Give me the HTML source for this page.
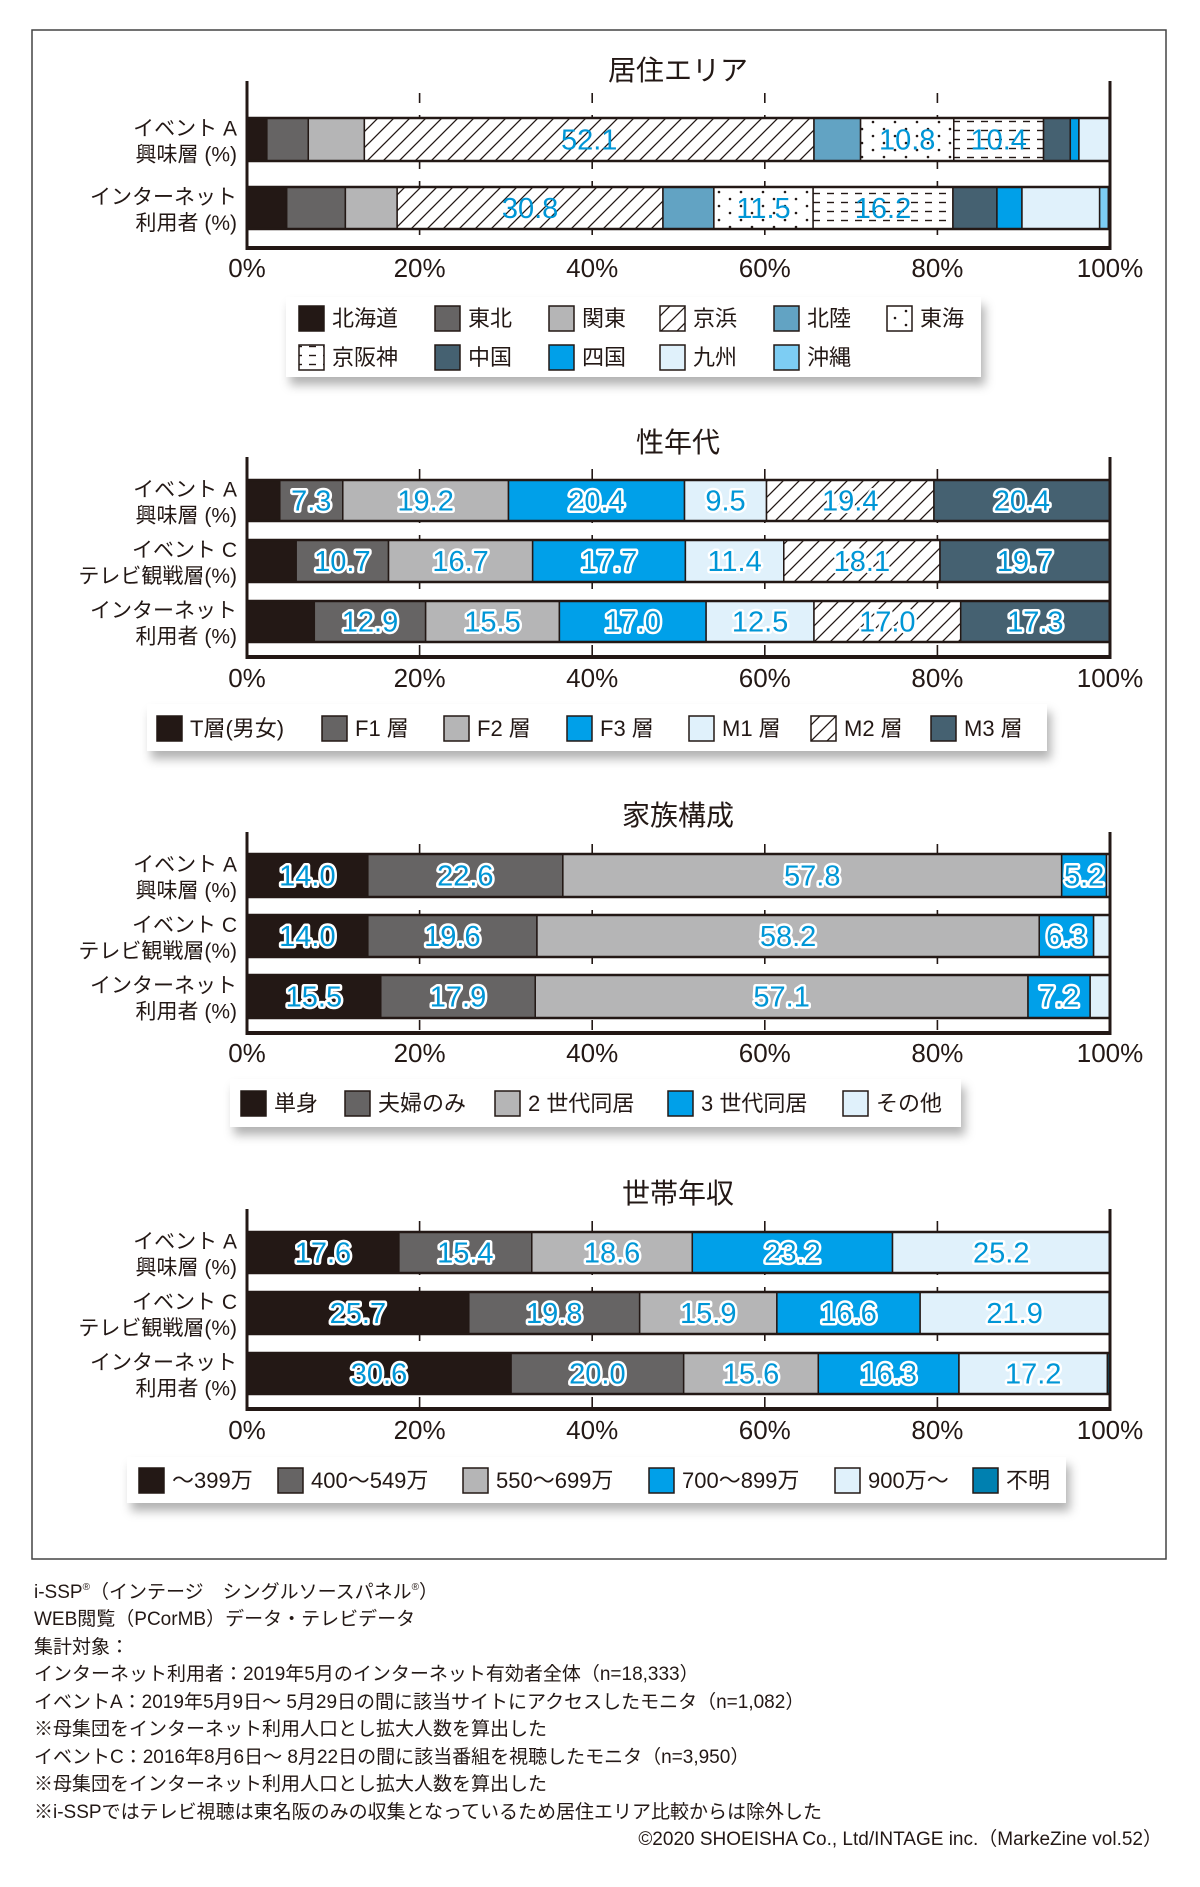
<!DOCTYPE html>
<html><head><meta charset="utf-8">
<style>
html,body{margin:0;padding:0;background:#fff;}
svg{display:block;font-family:"Liberation Sans Narrow","Liberation Sans","Noto Sans CJK JP",sans-serif;}
.foot{font-family:"Liberation Sans Narrow","Liberation Sans","Noto Sans CJK JP",sans-serif;}
</style></head>
<body>
<svg id="root" width="1200" height="1887" viewBox="0 0 1200 1887" xmlns="http://www.w3.org/2000/svg">
<defs>
<pattern id="hatch" patternUnits="userSpaceOnUse" width="16" height="16"><rect width="16" height="16" fill="#fff"/><path d="M-4,20 L20,-4 M-4,4 L4,-4 M12,20 L20,12" stroke="#231815" stroke-width="1.3"/></pattern>
<pattern id="dots" patternUnits="userSpaceOnUse" width="22" height="14"><rect width="22" height="14" fill="#fff"/><circle cx="4" cy="3" r="1.3" fill="#231815"/><circle cx="15" cy="10" r="1.3" fill="#231815"/></pattern>
<pattern id="dash" patternUnits="userSpaceOnUse" width="14" height="9"><rect width="14" height="9" fill="#fff"/><path d="M1,4.5 L8,4.5" stroke="#231815" stroke-width="1.4"/></pattern>
<filter id="shadow" x="-5%" y="-20%" width="110%" height="160%"><feDropShadow dx="4" dy="8" stdDeviation="5" flood-color="#000" flood-opacity="0.3"/></filter>
</defs>
<rect x="32" y="30" width="1134" height="1529" fill="none" stroke="#444" stroke-width="1.5"/>
<g id="charts"></g>
<g class="foot" font-size="19" fill="#231815">
<text x="34" y="1598">i-SSP<tspan font-size="10" dy="-8">®</tspan><tspan dy="8">（インテージ　シングルソースパネル</tspan><tspan font-size="10" dy="-8">®</tspan><tspan dy="8">）</tspan></text>
<text x="34" y="1625">WEB閲覧（PCorMB）データ・テレビデータ</text>
<text x="34" y="1653">集計対象：</text>
<text x="34" y="1680">インターネット利用者：2019年5月のインターネット有効者全体（n=18,333）</text>
<text x="34" y="1708">イベントA：2019年5月9日～ 5月29日の間に該当サイトにアクセスしたモニタ（n=1,082）</text>
<text x="34" y="1735">※母集団をインターネット利用人口とし拡大人数を算出した</text>
<text x="34" y="1763">イベントC：2016年8月6日～ 8月22日の間に該当番組を視聴したモニタ（n=3,950）</text>
<text x="34" y="1790">※母集団をインターネット利用人口とし拡大人数を算出した</text>
<text x="34" y="1818">※i-SSPではテレビ視聴は東名阪のみの収集となっているため居住エリア比較からは除外した</text>
<text x="1162" y="1845" text-anchor="end">©2020 SHOEISHA Co., Ltd/INTAGE inc.（MarkeZine vol.52）</text>
</g>
</svg>
<script>
// ---- Chart 1: 居住エリア ----
const areaCategories = ['北海道','東北','関東','京浜','北陸','東海','京阪神','中国','四国','九州','沖縄'];
const areaEventA = [2.3,4.8,6.5,52.1,5.4,10.8,10.4,3.1,1.0,3.5,0.1];
const areaInternet = [4.6,6.8,6.0,30.8,5.9,11.5,16.2,5.1,2.9,9.0,1.0];
const areaLabeled = [3,5,6];
// ---- Chart 2: 性年代 ----
const ageCategories = ['T層(男女)','F1 層','F2 層','F3 層','M1 層','M2 層','M3 層'];
const ageEventA = [3.8,7.3,19.2,20.4,9.5,19.4,20.4];
const ageEventC = [5.7,10.7,16.7,17.7,11.4,18.1,19.7];
const ageInternet = [7.8,12.9,15.5,17.0,12.5,17.0,17.3];
// ---- Chart 3: 家族構成 ----
const famCategories = ['単身','夫婦のみ','2 世代同居','3 世代同居','その他'];
const famEventA = [14.0,22.6,57.8,5.2,0.4];
const famEventC = [14.0,19.6,58.2,6.3,1.9];
const famInternet = [15.5,17.9,57.1,7.2,2.3];
// ---- Chart 4: 世帯年収 ----
const incCategories = ['～399万','400～549万','550～699万','700～899万','900万～','不明'];
const incEventA = [17.6,15.4,18.6,23.2,25.2,0.0];
const incEventC = [25.7,19.8,15.9,16.6,21.9,0.0];
const incInternet = [30.6,20.0,15.6,16.3,17.2,0.3];
const tickLabels = ['0%','20%','40%','60%','80%','100%'];

const NS='http://www.w3.org/2000/svg';
const X0=247, X1=1110;
function xScale(v){return X0+(X1-X0)*v/100;}
function mk(tag,attrs,parent){const e=document.createElementNS(NS,tag);for(const k in attrs)e.setAttribute(k,attrs[k]);parent.appendChild(e);return e;}
const root=document.getElementById('charts');

function drawChart(cfg){
  const g=mk('g',{},root);
  
  
  const t=mk('text',{x:678,y:cfg.titleY+10,'font-size':28,'text-anchor':'middle',fill:'#231815','font-family':'"Liberation Sans","Noto Sans CJK JP",sans-serif'},g);
  t.textContent=cfg.title;
  
  
  for(let i=1;i<5;i++){
    const gl=mk('line',{x1:xScale(i*20),x2:xScale(i*20),y1:cfg.top+12,y2:cfg.bottom,stroke:'#231815','stroke-width':1.6,'stroke-dasharray':'10,12'},g);
    
    
  }
  cfg.rows.forEach((row,ri)=>{
    const [y0,y1]=cfg.rowY[ri];
    let acc=0;
    mk('rect',{x:X0,y:y0,width:X1-X0,height:y1-y0,fill:'#fff'},g);
    row.values.forEach((v,ci)=>{
      const xa=xScale(acc), xb=xScale(acc+v);
      acc+=v;
      if(v<=0)return;
      const r=mk('rect',{x:xa,y:y0,width:xb-xa,height:y1-y0,fill:cfg.fills[ci],stroke:'#231815','stroke-width':1.5},g);
      
      
      const show = cfg.labeled ? cfg.labeled.includes(ci) : (ci>0);
      if(show && v>=cfg.minLabel){
        const tx=mk('text',{x:(xa+xb)/2,y:(y0+y1)/2+10,'font-size':29,'text-anchor':'middle',fill:'#0096d6'},g);
        if(cfg.outline){tx.setAttribute('stroke','#fff');tx.setAttribute('stroke-width','5');tx.setAttribute('paint-order','stroke');tx.setAttribute('stroke-linejoin','round');}
        tx.textContent=v.toFixed(1);
        
        
      }
    });
    mk('rect',{x:X0,y:y0,width:X1-X0,height:y1-y0,fill:'none',stroke:'#231815','stroke-width':2.5},g);
    row.label.forEach((ln,li)=>{
      const lt=mk('text',{x:237,y:(y0+y1)/2-4+li*26,'font-size':21,'text-anchor':'end',fill:'#231815','font-family':'"Liberation Sans","Noto Sans CJK JP",sans-serif'},g);
      lt.textContent=ln;
      
      
    });
  });
  mk('line',{x1:X0,x2:X0,y1:cfg.top,y2:cfg.bottom+2,stroke:'#231815','stroke-width':3},g);
  mk('line',{x1:X1,x2:X1,y1:cfg.top,y2:cfg.bottom+2,stroke:'#231815','stroke-width':3},g);
  mk('line',{x1:X0,x2:X1,y1:cfg.bottom,y2:cfg.bottom,stroke:'#231815','stroke-width':4},g);
  tickLabels.forEach((tl,i)=>{
    const tx=mk('text',{x:xScale(i*20),y:cfg.tickY+9,'font-size':26,'text-anchor':'middle',fill:'#231815'},g);
    tx.textContent=tl;
    
    
  });
  const L=cfg.legend;
  const lb=mk('rect',{x:L.x,y:L.y,width:L.w,height:L.h,fill:'#fff',filter:'url(#shadow)'},g);
  
  
  cfg.categories.forEach((c,ci)=>{
    const p=L.pos[ci];
    const sw=mk('rect',{x:p[0],y:p[1]-12,width:25,height:25,fill:cfg.fills[ci],stroke:'#231815','stroke-width':1.5},g);
    
    
    const tx=mk('text',{x:p[0]+33,y:p[1]+8,'font-size':22,fill:'#231815','font-family':'"Liberation Sans","Noto Sans CJK JP",sans-serif'},g);
    tx.textContent=c;
    
    
  });
}

const K='#231815',DG='#666464',LG='#b5b5b6',BL='#00a0e9',PB='#e0f1fb',SL='#456171';
const lblA=['イベント A','興味層 (%)'], lblC=['イベント C','テレビ観戦層(%)'], lblI=['インターネット','利用者 (%)'];

drawChart({name:'area',title:'居住エリア',titleY:70,top:81,bottom:248,tickY:268,
  rowY:[[118,161],[187,229]],
  rows:[{label:lblA,values:areaEventA},{label:lblI,values:areaInternet}],
  fills:[K,DG,LG,'url(#hatch)','#62a3c3','url(#dots)','url(#dash)',SL,BL,PB,'#7dcdf3'],
  categories:areaCategories,labeled:areaLabeled,minLabel:3,outline:false,
  legend:{x:286,y:297,w:695,h:80,pos:[[299,318],[435,318],[549,318],[660,318],[774,318],[887,318],[299,357],[435,357],[549,357],[660,357],[774,357]]}});

drawChart({name:'age',title:'性年代',titleY:442,top:457,bottom:657,tickY:678,
  rowY:[[480,521],[540,582],[601,642]],
  rows:[{label:lblA,values:ageEventA},{label:lblC,values:ageEventC},{label:lblI,values:ageInternet}],
  fills:[K,DG,LG,BL,PB,'url(#hatch)',SL],
  categories:ageCategories,minLabel:3,outline:true,
  legend:{x:147,y:704,w:900,h:47,pos:[[157,728],[322,728],[444,728],[567,728],[689,728],[811,728],[931,728]]}});

drawChart({name:'family',title:'家族構成',titleY:815,top:832,bottom:1033,tickY:1053,
  rowY:[[854,897],[915,957],[975,1018]],
  rows:[{label:lblA,values:famEventA},{label:lblC,values:famEventC},{label:lblI,values:famInternet}],
  fills:[K,DG,LG,BL,PB],
  categories:famCategories,labeled:[0,1,2,3],minLabel:3,outline:true,
  legend:{x:230,y:1079,w:731,h:48,pos:[[241,1103],[345,1103],[495,1103],[668,1103],[843,1103]]}});

drawChart({name:'income',title:'世帯年収',titleY:1193,top:1209,bottom:1409,tickY:1430,
  rowY:[[1232,1273],[1292,1334],[1353,1394]],
  rows:[{label:lblA,values:incEventA},{label:lblC,values:incEventC},{label:lblI,values:incInternet}],
  fills:[K,DG,LG,BL,PB,'#0080b0'],
  categories:incCategories,labeled:[0,1,2,3,4],minLabel:3,outline:true,
  legend:{x:127,y:1457,w:939,h:46,pos:[[139,1480],[278,1480],[463,1480],[649,1480],[835,1480],[973,1480]]}});
</script>
</body></html>
